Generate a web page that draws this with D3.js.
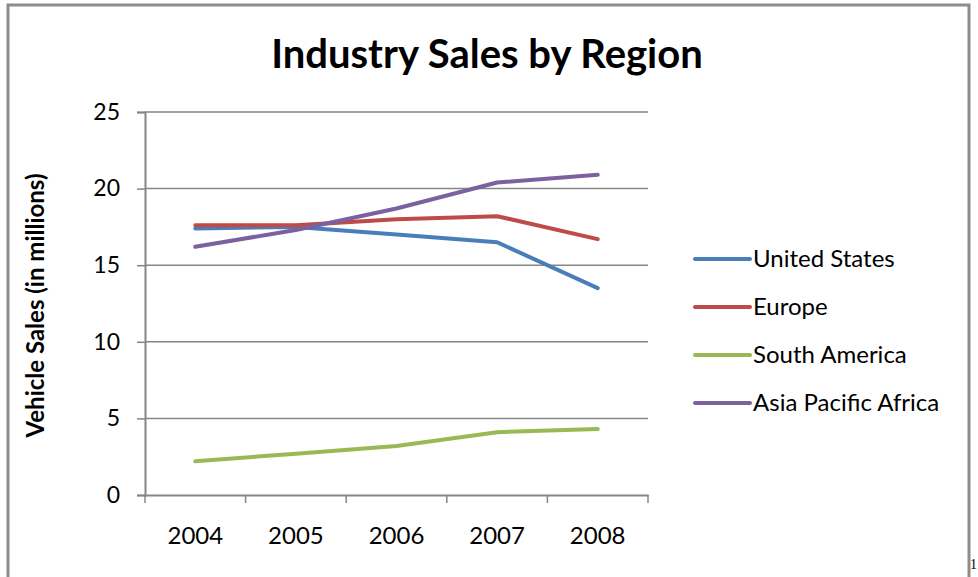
<!DOCTYPE html>
<html>
<head>
<meta charset="utf-8">
<script src="https://cdn.jsdelivr.net/npm/d3@7"></script>
<style>
  body { margin: 0; background: #fff; }
  svg text { font-family: Lato, "Open Sans", sans-serif; fill: #000; }
</style>
</head>
<body>
<div id="chart"></div>
<script>
const years = ["2004", "2005", "2006", "2007", "2008"];
const regions = ["United States", "Europe", "South America", "Asia Pacific Africa"];
const unitedStates = [17.4, 17.5, 17.0, 16.5, 13.5];
const europe = [17.6, 17.6, 18.0, 18.2, 16.7];
const southAmerica = [2.2, 2.7, 3.2, 4.1, 4.3];
const asiaPacificAfrica = [16.2, 17.3, 18.7, 20.4, 20.9];
const yTicks = [0, 5, 10, 15, 20, 25];
const colors = ["#4a7ebb", "#be4b48", "#98b954", "#7d60a0"];

const width = 978, height = 577;
const margin = { top: 112, bottom: 82, left: 145, right: 330 };

const series = [unitedStates, europe, southAmerica, asiaPacificAfrica]
  .map((vals, i) => ({ name: regions[i], color: colors[i], values: vals }));

const svg = d3.select("#chart")
  .append("svg")
  .attr("width", width)
  .attr("height", height);

// outer frame
svg.append("rect")
  .attr("x", 8).attr("y", 5)
  .attr("width", 961).attr("height", 590)
  .attr("fill", "none")
  .attr("stroke", "#8c8c8c")
  .attr("stroke-width", 3);

const xScale = d3.scaleBand()
  .domain(years)
  .range([margin.left, width - margin.right]);

const yScale = d3.scaleLinear()
  .domain([0, 25])
  .range([height - margin.bottom, margin.top]);

// gridlines
svg.append("g")
  .selectAll("line")
  .data(yTicks.filter(d => d > 0))
  .join("line")
  .attr("x1", margin.left).attr("x2", width - margin.right)
  .attr("y1", d => yScale(d)).attr("y2", d => yScale(d))
  .attr("stroke", "#868686")
  .attr("stroke-width", 1.5);

// y axis
const yAxis = svg.append("g")
  .attr("transform", `translate(${margin.left},0)`)
  .call(d3.axisLeft(yScale).tickValues(yTicks).tickSize(8).tickPadding(17));
yAxis.select(".domain").attr("stroke", "#868686").attr("stroke-width", 2);
yAxis.selectAll(".tick line").attr("stroke", "#868686").attr("stroke-width", 1.5);
yAxis.selectAll(".tick text").attr("font-size", 23).attr("font-family", "Lato, sans-serif");

// x axis
const xAxis = svg.append("g")
  .attr("transform", `translate(0,${height - margin.bottom})`)
  .call(d3.axisBottom(xScale).tickSize(0).tickPadding(32));
xAxis.select(".domain").attr("stroke", "#868686").attr("stroke-width", 2);
xAxis.selectAll(".tick text").attr("font-size", 24).attr("font-family", "Lato, sans-serif");
// category boundary ticks
xAxis.selectAll("line.boundary")
  .data(years.concat(["end"]))
  .join("line")
  .attr("class", "boundary")
  .attr("x1", (d, i) => i < years.length ? xScale(d) : xScale.range()[1])
  .attr("x2", (d, i) => i < years.length ? xScale(d) : xScale.range()[1])
  .attr("y1", 0).attr("y2", 8)
  .attr("stroke", "#868686")
  .attr("stroke-width", 1.5);

// lines
const lineFunc = d3.line()
  .x((d, i) => xScale(years[i]) + xScale.bandwidth() / 2)
  .y(d => yScale(d));

svg.append("g")
  .selectAll("path")
  .data(series)
  .join("path")
  .attr("d", d => lineFunc(d.values))
  .attr("fill", "none")
  .attr("stroke", d => d.color)
  .attr("stroke-width", 4)
  .attr("stroke-linecap", "round")
  .attr("stroke-linejoin", "round");

// title
svg.append("text")
  .attr("x", 487).attr("y", 68)
  .attr("text-anchor", "middle")
  .attr("font-size", 40)
  .attr("font-weight", "bold")
  .text("Industry Sales by Region");

// y axis title
svg.append("text")
  .attr("transform", `translate(44,${(margin.top + height - margin.bottom) / 2 + 2}) rotate(-90)`)
  .attr("text-anchor", "middle")
  .attr("font-size", 24)
  .attr("font-weight", "bold")
  .text("Vehicle Sales (in millions)");

// legend
const legend = svg.append("g")
  .selectAll("g")
  .data(series)
  .join("g")
  .attr("transform", (d, i) => `translate(695,${259 + i * 48})`);

legend.append("line")
  .attr("x1", 0).attr("x2", 55)
  .attr("stroke", d => d.color)
  .attr("stroke-width", 4)
  .attr("stroke-linecap", "round");

legend.append("text")
  .attr("x", 58)
  .attr("dy", "0.35em")
  .attr("font-size", 24)
  .text(d => d.name);

// page number
svg.append("text")
  .attr("x", 970).attr("y", 569)
  .attr("font-size", 14)
  .style("font-family", "'Liberation Serif', serif")
  .text("1");
</script>
</body>
</html>
